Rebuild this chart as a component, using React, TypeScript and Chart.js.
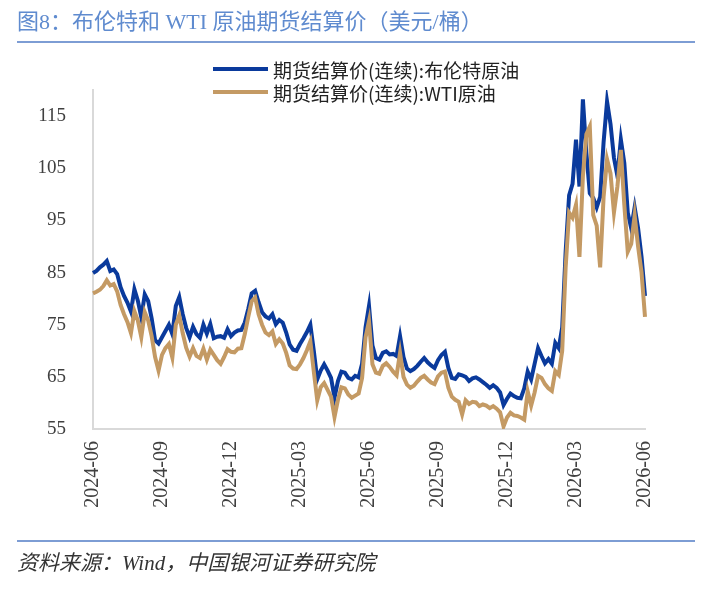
import { useEffect, useRef } from 'react'
import { Chart, registerables } from 'chart.js'

Chart.register(...registerables)

// 横轴季度刻度（每 20 个数据点一个）
const quarterTicks = ['2024-06', '2024-09', '2024-12', '2025-03', '2025-06', '2025-09', '2025-12', '2026-03', '2026-06']
const TICK_EVERY = 20
const yTicks = [55, 65, 75, 85, 95, 105, 115]

// 期货结算价(连续):布伦特原油
const brent = [
  84.9, 85.3, 86.0, 86.5, 87.2, 85.3, 85.6, 84.7, 82.2, 80.5,
  79.2, 77.5, 81.8, 79.6, 76.4, 80.8, 79.5, 76.2, 72.0, 71.4,
  72.6, 73.8, 75.0, 73.2, 78.6, 80.3, 77.0, 74.4, 72.6, 74.6,
  73.2, 72.5, 75.0, 73.3, 75.1, 72.4, 72.7, 72.8, 72.5, 74.1,
  72.8, 73.5, 73.9, 74.0, 75.4, 78.0, 81.0, 81.5, 79.3, 77.4,
  76.6, 76.2, 77.0, 75.1, 75.9, 75.4, 73.5, 71.2, 70.2, 70.0,
  71.3, 72.4, 73.6, 75.0, 70.0, 64.5, 66.2, 67.4, 66.2, 64.8,
  61.0, 64.2, 66.0, 65.8, 64.8, 64.5, 65.2, 64.9, 67.5, 74.5,
  78.6, 71.0, 68.6, 68.3, 69.6, 69.9, 69.3, 69.4, 69.0, 72.8,
  68.8, 66.6, 66.1, 66.5, 67.1, 67.9, 68.6, 67.8, 67.2, 66.7,
  68.2, 69.2, 69.8, 66.7, 64.8, 64.6, 65.5, 65.3, 65.0, 64.2,
  64.7, 64.9, 64.5, 64.0, 63.5, 62.9, 63.4, 62.9, 62.0, 59.6,
  60.8, 61.8, 61.3, 61.0, 60.9, 62.8, 66.0, 64.5, 67.5, 70.5,
  69.0, 67.6, 68.4, 67.5, 71.5, 70.5, 74.5, 89.0, 99.8, 102.0,
  110.5, 101.5, 118.2, 108.0, 100.2, 99.3, 97.5, 99.5, 110.0, 117.8,
  113.5, 107.0, 103.5, 110.5, 106.0, 96.5, 93.5, 97.5, 93.5, 88.0, 80.5,
]

// 期货结算价(连续):WTI原油
const wti = [
  81.0, 81.3, 81.7, 82.4, 83.5, 82.5, 82.8, 81.4, 78.8, 77.0,
  75.5, 73.4, 77.6, 75.8, 72.6, 77.4, 75.8, 72.8, 68.8, 66.2,
  69.2, 70.5, 71.3, 68.7, 75.0, 76.8, 73.4, 70.6, 68.9, 70.5,
  69.0, 68.6, 70.4, 68.3, 70.2, 69.2, 68.2, 67.5, 68.8, 70.3,
  69.8, 69.7, 70.4, 70.5, 73.2, 76.5, 79.5, 80.2, 77.0, 75.0,
  73.5, 73.0, 73.7, 71.3, 72.2, 71.4, 69.6, 67.2, 66.6, 66.5,
  67.4, 68.6, 70.1, 71.8, 66.0, 60.5, 63.0, 63.8, 62.5, 61.2,
  57.3, 60.6, 63.0, 62.8, 61.6, 61.0, 61.4, 61.8, 64.8, 72.6,
  75.7, 67.4, 65.8, 65.6, 67.1, 67.6, 66.9, 66.0, 65.3, 69.6,
  65.0, 63.5, 62.9, 63.3, 64.1, 64.8, 65.2, 64.5, 63.9, 63.6,
  65.1, 65.8, 66.0, 62.9, 61.2, 60.6, 60.2, 57.8, 60.5, 59.8,
  60.2, 60.1, 59.4, 59.7, 59.5, 59.0, 59.4, 58.9, 58.2, 55.5,
  57.2, 58.1, 57.6, 57.5, 57.2, 56.8, 62.2, 59.5, 62.0, 65.2,
  64.8, 63.6, 62.8, 62.3, 66.1, 65.4, 70.0, 86.0, 96.5, 95.5,
  98.0, 88.0, 103.5, 111.5, 113.0, 96.0, 94.0, 86.0, 99.5, 106.7,
  104.0, 96.5, 101.5, 108.5, 98.0, 89.0, 90.5, 96.0, 90.0, 85.0, 76.5,
]

const periods = brent.map((_, i) => String(i))

const BRENT_COLOR = '#0a3a9c'
const WTI_COLOR = '#c49a64'
const serif = '"Liberation Serif", "Noto Sans CJK SC", serif'
const cjk = '"Noto Sans CJK SC", sans-serif'

function LegendRow ({ color, text, top }) {
  return (
    <div style={{ position: 'absolute', left: 213, top, height: 22, display: 'flex', alignItems: 'center' }}>
      <div style={{ width: 55, height: 4, background: color }} />
      <span style={{ marginLeft: 5, fontFamily: cjk, fontSize: 19, color: '#222', whiteSpace: 'nowrap' }}>{text}</span>
    </div>
  )
}

export default function App () {
  const canvasRef = useRef(null)

  useEffect(() => {
    const chart = new Chart(canvasRef.current, {
      type: 'line',
      data: {
        labels: periods,
        datasets: [
          { label: '期货结算价(连续):布伦特原油', data: brent, borderColor: BRENT_COLOR, borderWidth: 4, pointRadius: 0, order: 1 },
          { label: '期货结算价(连续):WTI原油', data: wti, borderColor: WTI_COLOR, borderWidth: 4, pointRadius: 0, order: 0 },
        ],
      },
      options: {
        animation: false,
        responsive: true,
        maintainAspectRatio: false,
        layout: { padding: { top: 90, right: 74, bottom: 61, left: 0 } },
        plugins: { legend: { display: false }, tooltip: { enabled: false } },
        scales: {
          x: {
            grid: { display: false, drawTicks: false },
            border: { color: '#d9d9d9', width: 2 },
            ticks: {
              autoSkip: false,
              minRotation: 90,
              maxRotation: 90,
              padding: 12,
              color: '#404040',
              font: { family: serif, size: 20 },
              callback: (v, i) => (i % TICK_EVERY === 0 ? quarterTicks[i / TICK_EVERY] : null),
            },
            afterFit: (s) => { s.height = 100 },
          },
          y: {
            min: 55,
            max: 120,
            grid: { display: false, drawTicks: false },
            border: { color: '#d9d9d9', width: 2 },
            ticks: { padding: 27, color: '#404040', font: { family: serif, size: 19 } },
            afterBuildTicks: (s) => { s.ticks = yTicks.map((value) => ({ value })) },
            afterFit: (s) => { s.width = 93 },
          },
        },
      },
    })
    return () => chart.destroy()
  }, [])

  return (
    <div style={{ position: 'absolute', left: 0, top: 0, width: 719, height: 590, background: '#fff' }}>
      <canvas ref={canvasRef} />
      <div style={{ position: 'absolute', left: 17, top: 8, lineHeight: '28px', fontSize: 22, fontFamily: serif, color: '#5f8bcf', whiteSpace: 'nowrap' }}>
        图8：布伦特和 WTI 原油期货结算价（美元/桶）
      </div>
      <div style={{ position: 'absolute', left: 17, top: 41, width: 678, height: 2, background: '#7d9dd4' }} />
      <LegendRow color={BRENT_COLOR} text='期货结算价(连续):布伦特原油' top={58} />
      <LegendRow color={WTI_COLOR} text='期货结算价(连续):WTI原油' top={81} />
      <div style={{ position: 'absolute', left: 17, top: 540, width: 678, height: 2, background: '#7d9dd4' }} />
      <div style={{ position: 'absolute', left: 17, top: 550, lineHeight: '26px', fontSize: 21, fontFamily: serif, fontStyle: 'italic', color: '#333', whiteSpace: 'nowrap' }}>
        资料来源：Wind，中国银河证券研究院
      </div>
    </div>
  )
}
